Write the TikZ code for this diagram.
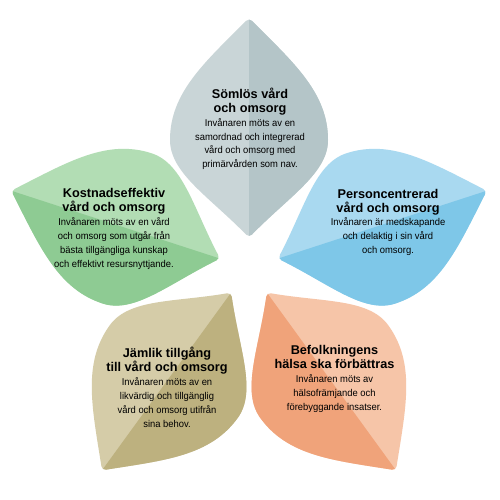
\documentclass[tikz,border=0pt]{standalone}
\usepackage{fontspec}
\setmainfont{Liberation Sans}
\newfontfamily\bodyfam[FakeStretch=0.95]{Liberation Sans}
\definecolor{topL}{HTML}{C9D5D7}
\definecolor{topD}{HTML}{B4C5C8}
\definecolor{rgtL}{HTML}{A9D9F0}
\definecolor{rgtD}{HTML}{7EC7E8}
\definecolor{brL}{HTML}{F6C5A8}
\definecolor{brD}{HTML}{F0A37A}
\definecolor{blL}{HTML}{D5CCA8}
\definecolor{blD}{HTML}{BDB17F}
\definecolor{lftL}{HTML}{B2DDB4}
\definecolor{lftD}{HTML}{8ECB93}
\newcommand{\petalshape}{(2.83,-247.2) .. controls (45,-205) and (79,-175) .. (79,-128) .. controls (79,-95) and (40,-71.5) .. (2.83,-33.33) .. controls (1.27,-31.77) and (-1.27,-31.77) .. (-2.83,-33.33) .. controls (-40,-71.5) and (-79,-95) .. (-79,-128) .. controls (-79,-175) and (-45,-205) .. (-2.83,-247.2) .. controls (-1.27,-248.76) and (1.27,-248.76) .. cycle}
\newcommand{\drawpetal}[4]{%
  \begin{scope}[shift={(249,268)}, rotate=#1]
    \fill[#2] \petalshape;
    \begin{scope}
      \clip \petalshape;
      \fill[#3] (0,-260) rectangle (#4*100,-20);
    \end{scope}
  \end{scope}}
\tikzset{
  headtxt/.style={anchor=base, align=center, inner sep=0pt, text=black,
    font=\fontsize{12.7}{13.7}\selectfont\bfseries},
  bodytxt/.style={anchor=base, align=center, inner sep=0pt, text=black,
    font=\bodyfam\fontsize{9.9}{13.8}\selectfont},
}
\begin{document}
\begin{tikzpicture}[x=1pt, y=-1pt]
\useasboundingbox (0,0) rectangle (500,500);
\fill[white] (0,0) rectangle (500,500);
\drawpetal{0}{topL}{topD}{1}
\drawpetal{-72}{rgtL}{rgtD}{1}
\drawpetal{-144}{brL}{brD}{1}
\drawpetal{-216}{blL}{blD}{-1}
\drawpetal{-288}{lftL}{lftD}{-1}
% top
\node[headtxt] (h1) at (250,112.5) {Sömlös vård\\och omsorg};
\node[bodytxt] (b1) at (250,167.7) {Invånaren möts av en\\samordnad och integrerad\\vård och omsorg med\\primärvården som nav.};
% left
\node[headtxt] (h2) at (114,211) {Kostnadseffektiv\\vård och omsorg};
\node[bodytxt] (b2) at (114,267.3) {Invånaren möts av en vård\\och omsorg som utgår från\\bästa tillgängliga kunskap\\och effektivt resursnyttjande.};
% right
\node[headtxt] (h3) at (388,212.5) {Personcentrerad\\vård och omsorg};
\node[bodytxt] (b3) at (388,253.3) {Invånaren är medskapande\\och delaktig i sin vård\\och omsorg.};
% bottom left
\node[headtxt] (h4) at (167,371) {Jämlik tillgång\\till vård och omsorg};
\node[bodytxt] (b4) at (167,427.3) {Invånaren möts av en\\likvärdig och tillgänglig\\vård och omsorg utifrån\\sina behov.};
% bottom right
\node[headtxt] (h5) at (334.5,368.3) {Befolkningens\\hälsa ska förbättras};
\node[bodytxt] (b5) at (334.5,410) {Invånaren möts av\\hälsofrämjande och\\förebyggande insatser.};
\end{tikzpicture}
\end{document}
